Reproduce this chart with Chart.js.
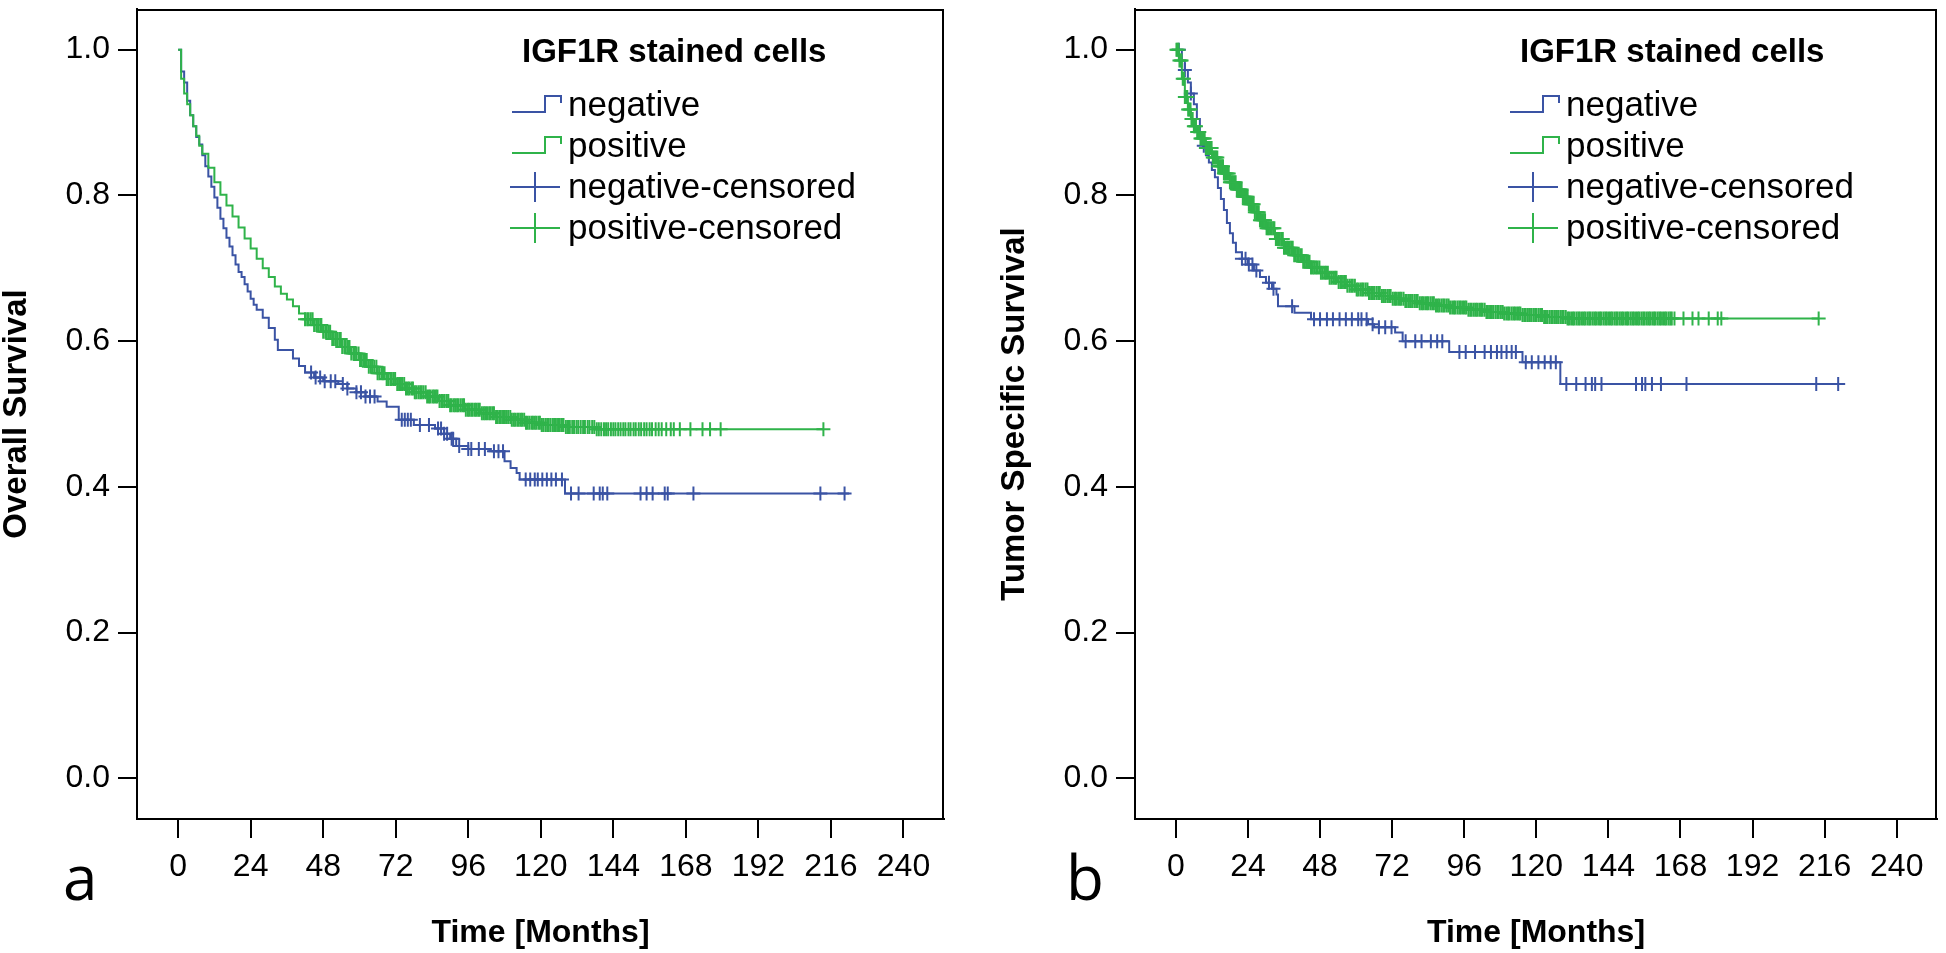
<!DOCTYPE html>
<html lang="en">
<head>
  <meta charset="UTF-8" />
  <title>IGF1R stained cells - survival</title>
  <script src="https://cdn.jsdelivr.net/npm/chart.js"></script>
  <style>
    body {
      margin: 0;
      background: #fff;
      width: 1946px;
      height: 953px;
      overflow: hidden;
      position: relative;
    }
    .panel {
      position: absolute;
      top: 0;
    }
    #panelA { left: 0; }
    #panelB { left: 980px; }
  </style>
</head>
<body>
  <div class="panel" id="panelA"><canvas id="chartA" width="980" height="953" style="width:980px;height:953px"></canvas></div>
  <div class="panel" id="panelB"><canvas id="chartB" width="966" height="953" style="width:966px;height:953px"></canvas></div>

  <script>
    const xTicks = [0, 24, 48, 72, 96, 120, 144, 168, 192, 216, 240];
    const yTicks = [0, 0.2, 0.4, 0.6, 0.8, 1.0];
    const legendTitle = 'IGF1R stained cells';
    const legendLabels = ['negative', 'positive', 'negative-censored', 'positive-censored'];
    const blue = '#3a53a4';
    const green = '#2fb34a';

    // panel a - overall survival (step times in months, survival after the step)
    const aNegTime = [0, 1, 2, 3, 4, 5, 6, 7, 8, 9, 10, 11, 12, 13, 14, 15, 16, 17, 18, 19, 20, 21, 22, 23, 24, 25, 26, 28, 30, 32, 33, 38, 40, 42, 45, 48, 53, 56, 59, 62, 66, 69, 73, 78, 85, 88, 90, 92, 96, 103, 108, 110, 112, 113, 128, 222];
    const aNegSurv = [1.0, 0.97, 0.955, 0.93, 0.91, 0.895, 0.88, 0.87, 0.855, 0.84, 0.826, 0.812, 0.797, 0.783, 0.768, 0.755, 0.742, 0.73, 0.718, 0.705, 0.695, 0.688, 0.678, 0.668, 0.658, 0.65, 0.643, 0.632, 0.618, 0.602, 0.588, 0.576, 0.566, 0.557, 0.55, 0.545, 0.541, 0.535, 0.53, 0.524, 0.517, 0.51, 0.492, 0.485, 0.48, 0.473, 0.466, 0.456, 0.452, 0.449, 0.435, 0.426, 0.419, 0.41, 0.391, 0.391];
    const aNegCens = [44, 45.5, 47, 48.5, 50.5, 52, 54.5, 56, 59, 60.5, 62, 63.5, 65, 74, 75, 76, 77, 80, 83, 86, 87, 88, 89, 90.5, 91, 93, 96, 97, 99.5, 101.5, 104.5, 106, 107.5, 115, 116.5, 118, 119, 120.5, 122, 123.5, 125, 127, 130, 132.5, 137.5, 139.5, 140.5, 142, 153, 155, 157, 161, 162, 170.5, 212.5, 220.5];

    const aPosTime = [0, 1, 2, 3, 4, 5, 6, 7, 8, 10, 12, 14, 16, 18, 20, 22, 24, 26, 28, 30, 32, 34, 36, 38, 40, 42, 45, 48, 51, 54, 57, 60, 63, 66, 69, 72, 75, 78, 82, 86, 90, 95, 100, 105, 110, 115, 120, 128, 138, 213.5];
    const aPosSurv = [1.0, 0.96, 0.94, 0.925, 0.91, 0.895, 0.882, 0.868, 0.857, 0.838, 0.818, 0.801, 0.786, 0.771, 0.756, 0.741, 0.727, 0.713, 0.70, 0.688, 0.675, 0.665, 0.657, 0.648, 0.638, 0.63, 0.622, 0.613, 0.603, 0.592, 0.583, 0.574, 0.565, 0.556, 0.548, 0.541, 0.535, 0.53, 0.524, 0.518, 0.512, 0.506, 0.501, 0.496, 0.492, 0.488, 0.485, 0.482, 0.479, 0.479];
    const aPosCens = [42, 42.7, 43.2, 43.9, 44.5, 45, 45.7, 46.3, 47, 47.4, 48, 48.7, 49.2, 49.8, 50.3, 51, 51.5, 52.1, 52.6, 53.3, 53.8, 54.3, 55, 55.5, 56.2, 56.7, 57.3, 58, 58.5, 59, 59.7, 60.2, 60.8, 61.5, 62, 62.4, 63.1, 63.8, 64.3, 64.9, 65.6, 66, 66.6, 67.3, 67.8, 68.3, 69, 69.5, 70.2, 70.7, 71.3, 71.8, 72.5, 73.1, 73.6, 74.1, 74.8, 75.4, 76, 76.5, 77.2, 77.7, 78.3, 78.8, 79.5, 80.1, 80.6, 81.2, 81.9, 82.4, 83, 83.5, 84.2, 84.7, 85.3, 85.8, 86.5, 87.1, 87.6, 88.2, 88.9, 89.4, 90, 90.5, 91.2, 91.7, 92.3, 92.8, 93.5, 94.1, 94.6, 95.2, 95.9, 96.4, 97, 97.5, 98.2, 98.7, 99.3, 99.8, 100.5, 101.1, 101.6, 102.2, 102.9, 103.4, 104, 104.5, 105.2, 105.7, 106.3, 106.8, 107.5, 108.1, 108.6, 109.2, 109.9, 110.4, 111, 111.5, 112.2, 112.7, 113.3, 113.8, 114.5, 115.1, 115.6, 116.2, 116.9, 117.4, 118, 118.5, 119.2, 119.7, 120.3, 120.8, 121.5, 122.1, 122.6, 123.2, 123.9, 124.4, 125, 125.7, 126.3, 127, 127.5, 128.3, 129, 129.6, 130.4, 131, 131.8, 132.4, 133.2, 134, 134.6, 135.5, 136.1, 137, 137.7, 138.5, 139.2, 140, 140.9, 141.6, 142.3, 143.2, 144, 144.7, 145.6, 146.4, 147.3, 148, 149, 149.7, 150.7, 151.4, 152.4, 153.2, 154.2, 155, 156, 156.8, 158, 159, 160, 161.5, 163, 164, 166, 169.5, 173.5, 176, 179.5, 213.5];

    // panel b - tumor specific survival
    const bNegTime = [0, 2, 3, 4, 5, 6, 7, 8, 9, 10, 11, 12, 13, 14, 15, 16, 17, 18, 19, 20, 22, 24, 26, 28, 30, 32, 33.5, 34, 39.5, 45, 64, 66, 73, 75.5, 91, 115.4, 128, 222.4];
    const bNegSurv = [1.0, 0.985, 0.972, 0.955, 0.94, 0.925, 0.905, 0.886, 0.868, 0.855, 0.845, 0.835, 0.825, 0.81, 0.795, 0.78, 0.762, 0.748, 0.735, 0.722, 0.713, 0.705, 0.697, 0.688, 0.68, 0.672, 0.664, 0.648, 0.639, 0.63, 0.623, 0.619, 0.612, 0.6, 0.585, 0.571, 0.541, 0.541];
    const bNegCens = [1, 3, 5, 9.3, 22, 23.2, 24.3, 25.5, 26.8, 31, 32.5, 38.7, 46, 48, 50.3, 52.3, 54.5, 56.6, 58.6, 60.7, 61.8, 63.5, 65.5, 67.6, 69.7, 71.8, 76.5, 79.7, 81.8, 84.9, 87, 88.7, 94.4, 96.5, 99.6, 102.8, 104.9, 106.9, 108.4, 110.1, 111.8, 113.2, 116.5, 118.5, 120.7, 122.8, 124.8, 126.5, 130, 133.3, 136.4, 138.5, 139.6, 141.7, 153.2, 155.2, 156.3, 158.5, 161.5, 170, 213.2, 220.5];

    const bPosTime = [0, 1, 2, 3, 4, 5, 6, 7, 8, 10, 12, 14, 16, 18, 20, 22, 24, 26, 28, 30, 33, 36, 39, 42, 45, 48, 51, 54, 57, 60, 64, 68, 72, 76, 81, 86, 91, 97, 103, 109, 115, 122, 130, 214];
    const bPosSurv = [1.0, 0.985, 0.96, 0.935, 0.918, 0.905, 0.895, 0.887, 0.878, 0.865, 0.852, 0.84, 0.83, 0.818, 0.808, 0.798, 0.788, 0.777, 0.766, 0.755, 0.74, 0.728, 0.718, 0.709, 0.701, 0.694, 0.687, 0.681, 0.676, 0.671, 0.666, 0.662, 0.658, 0.655, 0.652, 0.649, 0.646, 0.643, 0.64, 0.638, 0.636, 0.633, 0.631, 0.631];
    const bPosCens = [0.2, 0.5, 0.9, 1.2, 1.6, 1.9, 2.3, 2.7, 3, 3.4, 3.8, 4.1, 4.5, 4.9, 5.2, 5.6, 6, 6.3, 6.7, 7.1, 7.4, 7.8, 8.2, 8.5, 8.9, 9.3, 9.6, 10, 10.4, 10.8, 11.1, 11.5, 11.9, 12.3, 12.6, 13, 13.4, 13.8, 14.1, 14.5, 14.9, 15.3, 15.7, 16, 16.4, 16.8, 17.2, 17.6, 18, 18.3, 18.7, 19.1, 19.5, 19.9, 20.3, 20.7, 21.1, 21.5, 21.9, 22.3, 22.7, 23.1, 23.5, 23.9, 24.3, 24.7, 25.1, 25.5, 25.9, 26.3, 26.8, 27.2, 27.6, 28, 28.4, 28.9, 29.3, 29.7, 30.2, 30.6, 31, 31.5, 31.9, 32.4, 32.8, 33.3, 33.7, 34.2, 34.6, 35.1, 35.6, 36, 36.5, 37, 37.4, 37.9, 38.4, 38.9, 39.4, 39.9, 40.4, 40.9, 41.4, 41.9, 42.4, 42.9, 43.4, 44, 44.5, 45, 45.6, 46.1, 46.7, 47.2, 47.8, 48.3, 48.9, 49.5, 50, 50.6, 51.2, 51.8, 52.4, 53, 53.5, 54.2, 54.8, 55.3, 56, 56.6, 57.1, 57.8, 58.4, 58.9, 59.6, 60.2, 60.7, 61.4, 62, 62.5, 63.2, 63.8, 64.3, 65, 65.6, 66.1, 66.8, 67.4, 67.9, 68.6, 69.2, 69.7, 70.4, 71, 71.5, 72.2, 72.8, 73.3, 74, 74.6, 75.1, 75.8, 76.4, 76.9, 77.6, 78.2, 78.7, 79.4, 80, 80.5, 81.2, 81.8, 82.3, 83, 83.6, 84.1, 84.8, 85.4, 85.9, 86.6, 87.2, 87.7, 88.4, 89, 89.5, 90.2, 90.8, 91.3, 92, 92.6, 93.1, 93.8, 94.4, 94.9, 95.6, 96.2, 96.7, 97.4, 98, 98.5, 99.2, 99.8, 100.3, 101, 101.6, 102.1, 102.8, 103.4, 103.9, 104.6, 105.2, 105.7, 106.4, 107, 107.5, 108.2, 108.8, 109.3, 110, 110.6, 111.1, 111.8, 112.4, 112.9, 113.6, 114.2, 114.7, 115.4, 116, 116.5, 117.2, 117.8, 118.3, 119, 119.6, 120.1, 120.8, 121.4, 121.9, 122.6, 123.2, 123.7, 124.4, 125, 125.5, 126.2, 126.8, 127.3, 128, 128.6, 129.1, 129.8, 130.4, 130.9, 131.6, 132.2, 132.7, 133.4, 134, 134.5, 135.2, 135.8, 136.3, 137, 137.6, 138.1, 138.8, 139.4, 139.9, 140.6, 141.2, 141.7, 142.4, 143, 143.5, 144.2, 144.8, 145.3, 146, 146.6, 147.1, 147.8, 148.4, 148.9, 149.6, 150.2, 150.7, 151.4, 152, 152.5, 153.2, 153.8, 154.3, 155, 155.6, 156.1, 156.8, 157.4, 157.9, 158.6, 159.2, 159.7, 160.4, 161, 161.5, 162.2, 162.8, 163.3, 164, 164.6, 165.1, 166, 169, 172, 174, 177.4, 180.4, 181.6, 214];

    // value of a step curve at time t
    function survAt(times, surv, t) {
      let s = surv[0];
      for (let i = 0; i < times.length; i++) {
        if (times[i] <= t) s = surv[i];
        else break;
      }
      return s;
    }

    function curvePoints(times, surv) {
      return times.map((t, i) => ({ x: t, y: surv[i] }));
    }

    function censorPoints(cens, times, surv) {
      return cens.map(t => ({ x: t, y: survAt(times, surv, t) }));
    }

    const FONT = '"Liberation Sans", Arial, sans-serif';

    // frame, legend and panel letter
    const kmDecor = {
      id: 'kmDecor',
      afterDraw(chart, args, opts) {
        const ctx = chart.ctx;
        const area = chart.chartArea;
        ctx.save();

        // top and right border of the box
        ctx.strokeStyle = '#000';
        ctx.lineWidth = 2;
        ctx.beginPath();
        ctx.moveTo(area.left, area.top + 1);
        ctx.lineTo(area.right - 1, area.top + 1);
        ctx.lineTo(area.right - 1, area.bottom);
        ctx.stroke();

        // legend
        const lx = area.left + 375;
        ctx.fillStyle = '#000';
        ctx.textBaseline = 'alphabetic';
        ctx.textAlign = 'left';
        ctx.font = 'bold 33px ' + FONT;
        ctx.fillText(legendTitle, lx + 10, 62);

        ctx.font = '35px ' + FONT;
        const baselines = [116, 157, 198, 239];
        const colors = [blue, green, blue, green];
        legendLabels.forEach((lab, i) => {
          const b = baselines[i];
          ctx.strokeStyle = colors[i];
          ctx.lineWidth = 2;
          ctx.beginPath();
          if (i < 2) {
            ctx.moveTo(lx, b - 4);
            ctx.lineTo(lx + 33, b - 4);
            ctx.lineTo(lx + 33, b - 20);
            ctx.lineTo(lx + 49, b - 20);
            ctx.lineTo(lx + 49, b - 13);
          } else {
            ctx.moveTo(lx - 2, b - 11);
            ctx.lineTo(lx + 48, b - 11);
            ctx.moveTo(lx + 23, b - 26);
            ctx.lineTo(lx + 23, b + 4);
          }
          ctx.stroke();
          ctx.fillText(lab, lx + 56, b);
        });

        // panel letter
        ctx.font = '62px "Open Sans", "DejaVu Sans", sans-serif';
        ctx.fillText(opts.letter, opts.letterX, 900);
        ctx.restore();
      }
    };

    function makeChart(id, cfg) {
      const ctx = document.getElementById(id).getContext('2d');
      return new Chart(ctx, {
        type: 'scatter',
        data: {
          datasets: [
            {
              data: censorPoints(cfg.posCens, cfg.posTime, cfg.posSurv),
              showLine: false,
              pointStyle: 'cross',
              pointRadius: 7,
              pointBorderWidth: 2,
              borderColor: green,
              backgroundColor: green,
              order: 0
            },
            {
              data: curvePoints(cfg.posTime, cfg.posSurv),
              showLine: true,
              stepped: 'before',
              pointRadius: 0,
              borderWidth: 2,
              borderColor: green,
              fill: false,
              order: 1
            },
            {
              data: censorPoints(cfg.negCens, cfg.negTime, cfg.negSurv),
              showLine: false,
              pointStyle: 'cross',
              pointRadius: 7,
              pointBorderWidth: 2,
              borderColor: blue,
              backgroundColor: blue,
              order: 2
            },
            {
              data: curvePoints(cfg.negTime, cfg.negSurv),
              showLine: true,
              stepped: 'before',
              pointRadius: 0,
              borderWidth: 2,
              borderColor: blue,
              fill: false,
              order: 3
            }
          ]
        },
        options: {
          responsive: false,
          animation: false,
          events: [],
          layout: { padding: { left: 0, top: 2, right: cfg.padRight, bottom: 0 } },
          plugins: {
            legend: { display: false },
            tooltip: { enabled: false },
            kmDecor: { letter: cfg.letter, letterX: cfg.letterX }
          },
          scales: {
            x: {
              type: 'linear',
              min: -13.6,
              max: 253.4,
              afterBuildTicks: s => { s.ticks = xTicks.map(v => ({ value: v })); },
              afterFit: s => { s.height = 134; s.paddingLeft = 0; s.paddingRight = 0; },
              grid: { drawOnChartArea: false, drawTicks: true, tickLength: 19, tickWidth: 2, tickColor: '#000', color: '#000', lineWidth: 2 },
              border: { display: true, color: '#000', width: 2 },
              ticks: {
                padding: 10,
                maxRotation: 0,
                autoSkip: false,
                color: '#000',
                font: { family: FONT, size: 32 },
                callback: v => String(v)
              },
              title: {
                display: true,
                text: 'Time [Months]',
                color: '#000',
                font: { family: FONT, size: 32, weight: 'bold', lineHeight: 1 },
                padding: { top: 0, bottom: 4 }
              }
            },
            y: {
              type: 'linear',
              min: -0.0558,
              max: 1.0558,
              afterBuildTicks: s => { s.ticks = yTicks.map(v => ({ value: v })); },
              afterFit: s => { s.width = cfg.yWidth; s.paddingTop = 0; s.paddingBottom = 0; },
              grid: { drawOnChartArea: false, drawTicks: true, tickLength: 19, tickWidth: 2, tickColor: '#000', color: '#000', lineWidth: 2 },
              border: { display: true, color: '#000', width: 2 },
              ticks: {
                padding: 8,
                autoSkip: false,
                color: '#000',
                font: { family: FONT, size: 32 },
                callback: v => v.toFixed(1)
              },
              title: {
                display: true,
                text: cfg.yTitle,
                color: '#000',
                font: { family: FONT, size: 33, weight: 'bold', lineHeight: 1 },
                padding: { top: cfg.yTitlePad, bottom: 0 }
              }
            }
          }
        },
        plugins: [kmDecor]
      });
    }

    makeChart('chartA', {
      negTime: aNegTime, negSurv: aNegSurv, negCens: aNegCens,
      posTime: aPosTime, posSurv: aPosSurv, posCens: aPosCens,
      yTitle: 'Overall Survival', yWidth: 137, yTitlePad: 0, padRight: 36,
      letter: 'a', letterX: 63
    });

    makeChart('chartB', {
      negTime: bNegTime, negSurv: bNegSurv, negCens: bNegCens,
      posTime: bPosTime, posSurv: bPosSurv, posCens: bPosCens,
      yTitle: 'Tumor Specific Survival', yWidth: 155, yTitlePad: 18, padRight: 5,
      letter: 'b', letterX: 86
    });
  </script>
</body>
</html>
